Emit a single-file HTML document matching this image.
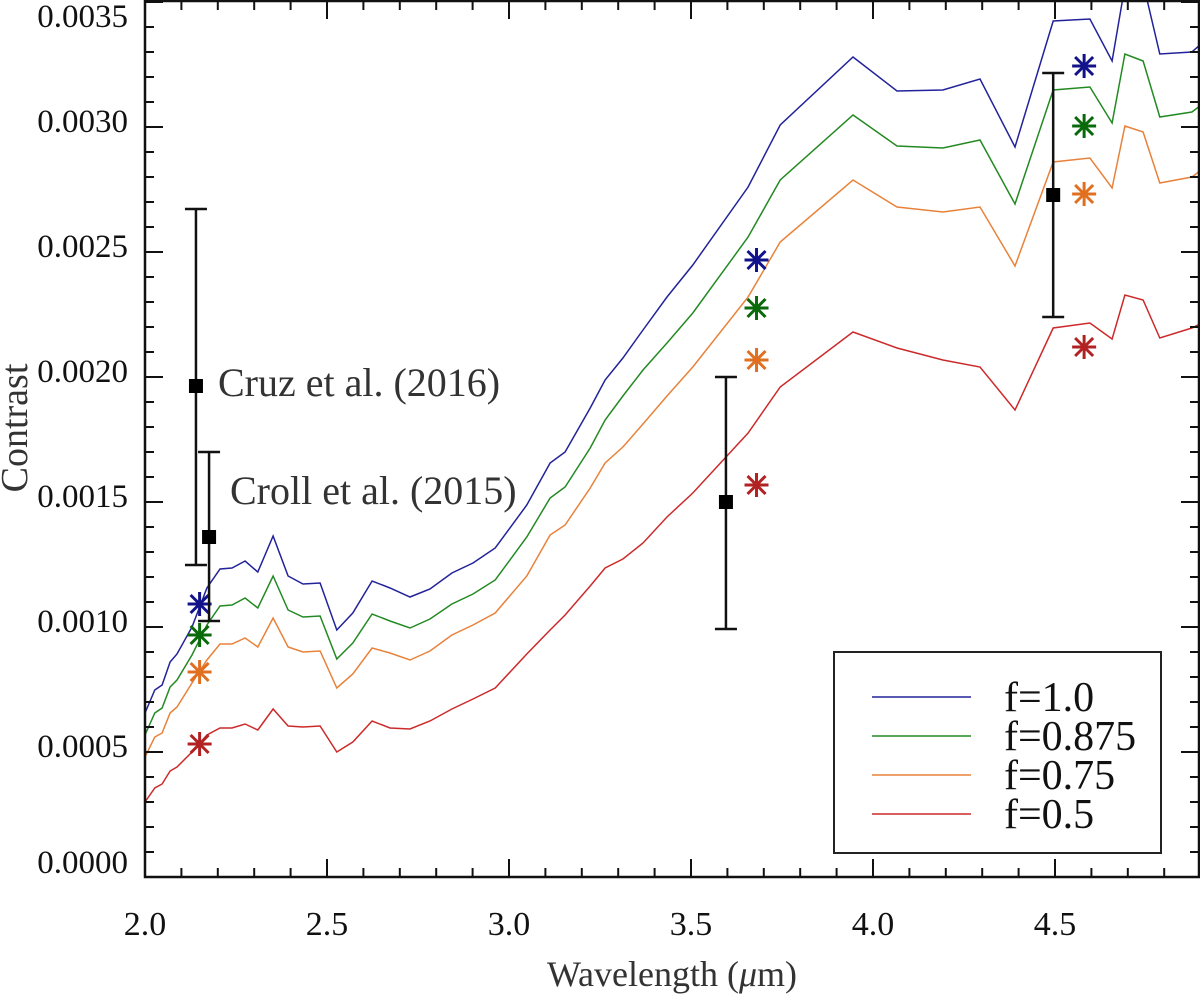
<!DOCTYPE html>
<html><head><meta charset="utf-8"><style>
body{margin:0;background:#fff}
svg{display:block;font-family:"Liberation Serif",serif}
</style></head><body>
<svg id="chart" width="1200" height="996" viewBox="0 0 1200 996" xmlns="http://www.w3.org/2000/svg">
<g id="plot"></g>
<text x="672" y="986" font-size="36" text-anchor="middle" fill="#333">Wavelength (<tspan font-style="italic">μ</tspan>m)</text>
<text transform="translate(27,428) rotate(-90)" font-size="38" text-anchor="middle" fill="#333">Contrast</text>
<text x="218" y="396" font-size="40" fill="#333">Cruz et al. (2016)</text>
<text x="230" y="504" font-size="40" fill="#333">Croll et al. (2015)</text>
<g>
<rect x="834" y="652" width="327" height="201" fill="#fff" stroke="#222" stroke-width="2"/>
<line x1="872" y1="697" x2="971" y2="697" stroke="#22229a" stroke-width="1.5"/>
<text x="1004" y="711" font-size="42" fill="#111">f=1.0</text>
<line x1="872" y1="736" x2="971" y2="736" stroke="#238a23" stroke-width="1.5"/>
<text x="1004" y="750" font-size="42" fill="#111">f=0.875</text>
<line x1="872" y1="775" x2="971" y2="775" stroke="#e8823a" stroke-width="1.5"/>
<text x="1004" y="789" font-size="42" fill="#111">f=0.75</text>
<line x1="872" y1="814" x2="971" y2="814" stroke="#cc2a2a" stroke-width="1.5"/>
<text x="1004" y="828" font-size="42" fill="#111">f=0.5</text>
</g>
</svg>
<script>
const wavelengths=[2.000,2.027,2.047,2.069,2.088,2.129,2.170,2.206,2.239,2.275,2.310,2.352,2.393,2.434,2.481,2.527,2.571,2.624,2.673,2.728,2.783,2.843,2.901,2.962,3.049,3.113,3.154,3.223,3.264,3.313,3.368,3.434,3.505,3.657,3.745,3.945,4.066,4.192,4.294,4.390,4.495,4.596,4.657,4.692,4.742,4.788,4.876,4.898];
const f100=[0.656,0.748,0.768,0.860,0.892,1.000,1.156,1.232,1.236,1.264,1.220,1.364,1.204,1.172,1.176,0.988,1.056,1.184,1.156,1.120,1.152,1.216,1.256,1.316,1.488,1.656,1.700,1.876,1.988,2.076,2.188,2.320,2.448,2.760,3.008,3.280,3.144,3.148,3.192,2.920,3.424,3.432,3.264,3.564,3.576,3.292,3.300,3.328];
const f0875=[0.568,0.656,0.676,0.760,0.788,0.888,1.008,1.084,1.088,1.116,1.076,1.204,1.068,1.040,1.044,0.872,0.936,1.052,1.024,0.996,1.032,1.092,1.132,1.188,1.360,1.516,1.560,1.716,1.828,1.924,2.028,2.136,2.256,2.560,2.788,3.048,2.924,2.916,2.948,2.692,3.148,3.160,3.016,3.292,3.264,3.040,3.060,3.084];
const f075=[0.480,0.560,0.576,0.656,0.680,0.776,0.868,0.932,0.932,0.956,0.920,1.036,0.920,0.900,0.904,0.756,0.812,0.916,0.896,0.868,0.904,0.968,1.008,1.056,1.204,1.368,1.408,1.556,1.656,1.720,1.812,1.924,2.040,2.320,2.540,2.788,2.680,2.660,2.680,2.444,2.860,2.876,2.756,3.004,2.980,2.776,2.800,2.824];
const f050=[0.300,0.356,0.372,0.424,0.440,0.500,0.568,0.596,0.596,0.612,0.588,0.672,0.604,0.600,0.604,0.500,0.540,0.624,0.596,0.592,0.624,0.672,0.712,0.756,0.892,0.988,1.048,1.164,1.236,1.272,1.336,1.440,1.536,1.776,1.960,2.180,2.116,2.068,2.040,1.868,2.196,2.216,2.152,2.328,2.308,2.156,2.196,2.212];
const bandX=[2.15,3.68,4.58];
const bandF100=[1.092,2.468,3.244];
const bandF0875=[0.968,2.276,3.004];
const bandF075=[0.820,2.068,2.732];
const bandF050=[0.532,1.568,2.120];
const obsX=[2.140,2.176,3.596,4.495];
const obsY=[1.964,1.360,1.500,2.728];
const obsLo=[1.248,1.024,0.992,2.240];
const obsHi=[2.672,1.700,2.000,3.216];
const xTicks=["2.0","2.5","3.0","3.5","4.0","4.5"];
const yTicks=["0.0000","0.0005","0.0010","0.0015","0.0020","0.0025","0.0030","0.0035"];

const L=145,R=1199,T=1,B=877;
const X=v=>L+(v-2.0)*364;
const Y=v=>B-v*250; // v in units of 1e-3
const NS="http://www.w3.org/2000/svg";
const plot=document.getElementById('plot');
function mk(tag,attrs,parent){const e=document.createElementNS(NS,tag);for(const k in attrs)e.setAttribute(k,attrs[k]);(parent||plot).appendChild(e);return e;}

const clip=mk('clipPath',{id:'clip'});
mk('rect',{x:L,y:T,width:R-L,height:B-T},clip);

const series=[[f100,'#22229a','#12128a'],[f0875,'#238a23','#0a6a0a'],[f075,'#e8823a','#e07020'],[f050,'#cc2a2a','#b22222']];
const names=['line-f1','line-f0875','line-f075','line-f05'];
series.forEach((s,i)=>{
  const d=s[0].map((v,j)=>(j?'L':'M')+X(wavelengths[j]).toFixed(1)+','+Y(v).toFixed(1)).join('');
  const p=mk('path',{d:d,fill:'none',stroke:s[1],'stroke-width':1.5,'clip-path':'url(#clip)'});
  
  
});
const bands=[bandF100,bandF0875,bandF075,bandF050];
bands.forEach((b,i)=>{
  b.forEach((v,j)=>{
    const cx=X(bandX[j]),cy=Y(v),r=12;
    const g=mk('g',{stroke:series[i][2],'stroke-width':3});
    
    
    mk('line',{x1:cx,y1:cy-r,x2:cx,y2:cy+r},g);
    mk('line',{x1:cx-r,y1:cy,x2:cx+r,y2:cy},g);
    mk('line',{x1:cx-r*0.75,y1:cy-r*0.75,x2:cx+r*0.75,y2:cy+r*0.75},g);
    mk('line',{x1:cx-r*0.75,y1:cy+r*0.75,x2:cx+r*0.75,y2:cy-r*0.75},g);
  });
});
obsX.forEach((v,j)=>{
  const g=mk('g',{stroke:'#111','stroke-width':2.5});
  
  
  const cx=X(v);
  mk('line',{x1:cx,y1:Y(obsLo[j]),x2:cx,y2:Y(obsHi[j])},g);
  mk('line',{x1:cx-11,y1:Y(obsLo[j]),x2:cx+11,y2:Y(obsLo[j])},g);
  mk('line',{x1:cx-11,y1:Y(obsHi[j]),x2:cx+11,y2:Y(obsHi[j])},g);
  const r=mk('rect',{x:cx-7,y:Y(obsY[j])-7,width:14,height:14,fill:'#000',stroke:'none'});
  
  
});
const fr=mk('rect',{x:L,y:T,width:R-L,height:B-T,fill:'none',stroke:'#111','stroke-width':2.5});


for(let k=0;k<=29;k++){
  const v=2.0+k*0.1;const x=X(v);if(x>R)break;
  const major=k%5===0,len=major?18:9;
  mk('line',{x1:x,y1:B,x2:x,y2:B-len,stroke:'#111','stroke-width':2});
  mk('line',{x1:x,y1:T,x2:x,y2:T+len,stroke:'#111','stroke-width':2});
}
xTicks.forEach(t=>{
  const e=mk('text',{x:X(parseFloat(t)),y:935,'font-size':34,'text-anchor':'middle',fill:'#111'});
  e.textContent=t;
  
  
});
for(let k=0;k<=35;k++){
  const y=Y(k*0.1);const major=k%5===0,len=major?18:9;
  mk('line',{x1:L,y1:y,x2:L+len,y2:y,stroke:'#111','stroke-width':2});
  mk('line',{x1:R,y1:y,x2:R-len,y2:y,stroke:'#111','stroke-width':2});
}
yTicks.forEach(t=>{
  const v=parseFloat(t)*1000;let y=Y(v)+5;if(y<27)y=27;if(v===0)y=Y(v)-4;
  const e=mk('text',{x:128,y:y,'font-size':33,'text-anchor':'end',fill:'#111'});
  e.textContent=t;
  
  
});
</script>
</body></html>
